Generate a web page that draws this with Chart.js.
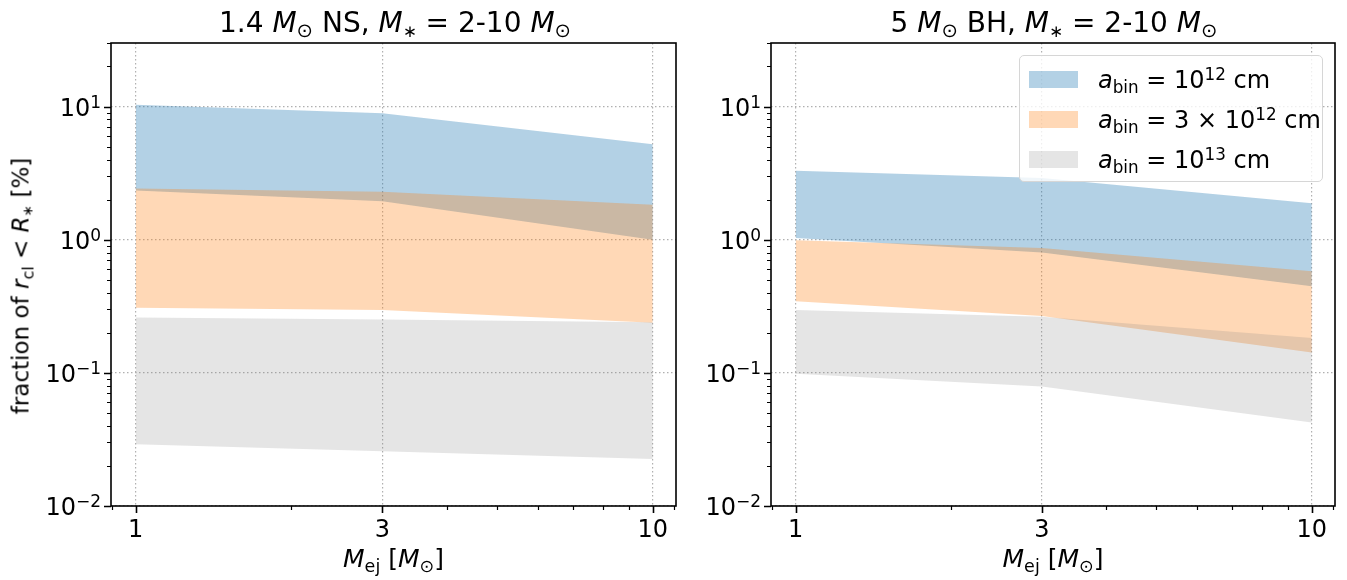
<!DOCTYPE html>
<html>
<head>
<meta charset="utf-8">
<script src="https://cdn.jsdelivr.net/npm/chart.js@4.4.1/dist/chart.umd.min.js"></script>
<style>
    body { margin: 0; background: #fff; }
    #fig { position: relative; width: 1347px; height: 580px; overflow: hidden; font-family: 'DejaVu Sans', sans-serif; color: #000; }
    canvas { position: absolute; top: 0; }
    .txt { position: absolute; white-space: nowrap; line-height: 1; }
    .m { font-style: italic; }
    .sb { font-size: 70%; position: relative; top: 0.28em; }
    .st { font-size: 60%; position: relative; top: 0.3em; }
    .sp { font-size: 70%; position: relative; top: -0.5em; }
    .title { font-size: 28px; top: 9px; transform: translateX(-50%); }
    .xlab { font-size: 25px; top: 546px; transform: translateX(-50%); }
    #ylab { font-size: 23px; left: 21px; top: 286px; transform: translate(-50%, -50%) rotate(-90deg); }
    #legend { position: absolute; left: 1019px; top: 55px; width: 302px; height: 125px;
              border: 1.5px solid #d6d6d6; border-radius: 5px; background: rgba(255,255,255,0.8); }
    .patch { position: absolute; left: 9px; width: 49px; height: 17px; }
    .ltxt { font-size: 24px; left: 78px; }
</style>
</head>
<body>
<div id="fig">
    <canvas id="nsChart" width="700" height="580" style="left:0"></canvas>
    <canvas id="bhChart" width="647" height="580" style="left:700px"></canvas>

    <div class="txt title" style="left:395px">1.4 <span class="m">M</span><span class="sb">⊙</span> NS, <span class="m">M</span><span class="st">∗</span> = 2-10 <span class="m">M</span><span class="sb">⊙</span></div>
    <div class="txt title" style="left:1054px">5 <span class="m">M</span><span class="sb">⊙</span> BH, <span class="m">M</span><span class="st">∗</span> = 2-10 <span class="m">M</span><span class="sb">⊙</span></div>

    <div class="txt xlab" style="left:393.5px"><span class="m">M</span><span class="sb">ej</span> [<span class="m">M</span><span class="sb">⊙</span>]</div>
    <div class="txt xlab" style="left:1053px"><span class="m">M</span><span class="sb">ej</span> [<span class="m">M</span><span class="sb">⊙</span>]</div>

    <div class="txt" id="ylab">fraction of <span class="m">r</span><span class="sb">cl</span> &lt; <span class="m">R</span><span class="st">∗</span> [%]</div>

    <div id="legend">
        <div class="patch" style="top:15px;background:rgba(31,119,180,0.34)"></div>
        <div class="txt ltxt" style="top:12px"><span class="m">a</span><span class="sb">bin</span> = 10<span class="sp">12</span> cm</div>
        <div class="patch" style="top:55px;background:rgba(255,127,14,0.3)"></div>
        <div class="txt ltxt" style="top:52px"><span class="m">a</span><span class="sb">bin</span> = 3 × 10<span class="sp">12</span> cm</div>
        <div class="patch" style="top:95px;background:rgba(127,127,127,0.2)"></div>
        <div class="txt ltxt" style="top:92px"><span class="m">a</span><span class="sb">bin</span> = 10<span class="sp">13</span> cm</div>
    </div>
</div>

<script>
// ejecta mass [Msun]
const mEj = [1, 3, 10];

// 1.4 Msun NS panel: lower / upper edge of each band [%]
const nsBlueLow = [2.34, 1.94, 1.0];
const nsBlueHigh = [10.3, 8.9, 5.2];
const nsOrangeLow = [0.308, 0.297, 0.238];
const nsOrangeHigh = [2.42, 2.29, 1.83];
const nsGrayLow = [0.0291, 0.0258, 0.0225];
const nsGrayHigh = [0.26, 0.252, 0.24];

// 5 Msun BH panel
const bhBlueLow = [1.03, 0.80, 0.447];
const bhBlueHigh = [3.3, 2.9, 1.88];
const bhOrangeLow = [0.345, 0.267, 0.142];
const bhOrangeHigh = [0.99, 0.867, 0.579];
const bhGrayLow = [0.0986, 0.0788, 0.0424];
const bhGrayHigh = [0.296, 0.264, 0.183];

// ticks
const xMajor = [1, 3, 10];
const xMinor = [0.9, 2, 4, 5, 6, 7, 8, 9, 11];
const yMajor = [0.01, 0.1, 1, 10];
const yExponents = ['\u22122', '\u22121', '0', '1'];
const yMinor = [0.02, 0.03, 0.04, 0.05, 0.06, 0.07, 0.08, 0.09,
                0.2, 0.3, 0.4, 0.5, 0.6, 0.7, 0.8, 0.9,
                2, 3, 4, 5, 6, 7, 8, 9, 20, 30];

const BLUE = 'rgba(31,119,180,0.34)';
const ORANGE = 'rgba(255,127,14,0.3)';
const GRAY = 'rgba(127,127,127,0.2)';

function pts(ys) {
    return mEj.map((x, i) => ({ x: x, y: ys[i] }));
}

// dibuja ticks (mayores y menores), etiquetas 10^n y el marco de los ejes
const frameTicks = {
    id: 'frameTicks',
    afterDraw(chart) {
        const { ctx, chartArea: a, scales: { x, y } } = chart;
        ctx.save();
        ctx.strokeStyle = '#000';

        ctx.lineWidth = 1.2;
        ctx.beginPath();
        xMinor.forEach(v => {
            const px = Math.round(x.getPixelForValue(v)) + 0.5;
            if (px < a.left || px > a.right) return;
            ctx.moveTo(px, a.bottom); ctx.lineTo(px, a.bottom + 4);
        });
        yMinor.forEach(v => {
            const py = Math.round(y.getPixelForValue(v)) + 0.5;
            if (py < a.top - 0.5 || py > a.bottom) return;
            ctx.moveTo(a.left, py); ctx.lineTo(a.left - 4, py);
        });
        ctx.stroke();

        ctx.lineWidth = 1.6;
        ctx.beginPath();
        xMajor.forEach(v => {
            const px = Math.round(x.getPixelForValue(v)) + 0.5;
            ctx.moveTo(px, a.bottom); ctx.lineTo(px, a.bottom + 7);
        });
        yMajor.forEach(v => {
            const py = Math.round(y.getPixelForValue(v)) + 0.5;
            ctx.moveTo(a.left, py); ctx.lineTo(a.left - 7, py);
        });
        ctx.stroke();
        ctx.strokeRect(a.left, a.top, a.right - a.left, a.bottom - a.top);

        // etiquetas del eje y con exponente
        ctx.fillStyle = '#000';
        ctx.textBaseline = 'alphabetic';
        ctx.textAlign = 'left';
        yMajor.forEach((v, i) => {
            const py = y.getPixelForValue(v);
            ctx.font = '17px "DejaVu Sans"';
            const wExp = ctx.measureText(yExponents[i]).width;
            ctx.font = '24px "DejaVu Sans"';
            const wBase = ctx.measureText('10').width;
            const right = a.left - 10;
            ctx.fillText('10', right - wExp - wBase, py + 9);
            ctx.font = '17px "DejaVu Sans"';
            ctx.fillText(yExponents[i], right - wExp, py + 1);
        });
        ctx.restore();
    }
};

function band(low, high, color, lowIndex, order) {
    return [
        { data: pts(low), borderWidth: 0, borderColor: 'rgba(0,0,0,0)', pointRadius: 0, fill: false, order: order },
        { data: pts(high), borderWidth: 0, borderColor: 'rgba(0,0,0,0)', pointRadius: 0,
          backgroundColor: color, fill: { target: lowIndex }, order: order }
    ];
}

function makeChart(canvasId, bands, yWidth, padRight) {
    const datasets = [
        ...band(bands[0], bands[1], BLUE, 0, 2),
        ...band(bands[2], bands[3], ORANGE, 2, 1),
        ...band(bands[4], bands[5], GRAY, 4, 0)
    ];
    const tickFont = { family: 'DejaVu Sans', size: 24 };
    return new Chart(document.getElementById(canvasId), {
        type: 'line',
        data: { datasets: datasets },
        options: {
            responsive: false,
            animation: false,
            devicePixelRatio: 1,
            layout: { padding: { top: 43, right: padRight, bottom: 0, left: 0 } },
            elements: { line: { tension: 0 } },
            plugins: { legend: { display: false }, tooltip: { enabled: false } },
            scales: {
                x: {
                    type: 'logarithmic',
                    min: Math.pow(10, -0.0478),
                    max: Math.pow(10, 1.045),
                    z: 1,
                    afterBuildTicks: s => { s.ticks = xMajor.map(v => ({ value: v })); },
                    afterFit: s => { s.height = 74; },
                    ticks: { font: tickFont, color: '#000', padding: 10, maxRotation: 0, autoSkip: false,
                             callback: v => String(v) },
                    grid: { color: '#b0b0b0', lineWidth: 1.2, drawTicks: false },
                    border: { display: false, dash: [1.5, 2.5] }
                },
                y: {
                    type: 'logarithmic',
                    min: 0.01,
                    max: 30,
                    z: 1,
                    afterBuildTicks: s => { s.ticks = yMajor.map(v => ({ value: v })); },
                    afterFit: s => { s.width = yWidth; },
                    ticks: { display: false },
                    grid: { color: '#b0b0b0', lineWidth: 1.2, drawTicks: false },
                    border: { display: false, dash: [1.5, 2.5] }
                }
            }
        },
        plugins: [frameTicks]
    });
}

document.addEventListener('DOMContentLoaded', function() {
    makeChart('nsChart', [nsBlueLow, nsBlueHigh, nsOrangeLow, nsOrangeHigh, nsGrayLow, nsGrayHigh], 111, 24);
    makeChart('bhChart', [bhBlueLow, bhBlueHigh, bhOrangeLow, bhOrangeHigh, bhGrayLow, bhGrayHigh], 71, 12);
});
</script>
</body>
</html>
